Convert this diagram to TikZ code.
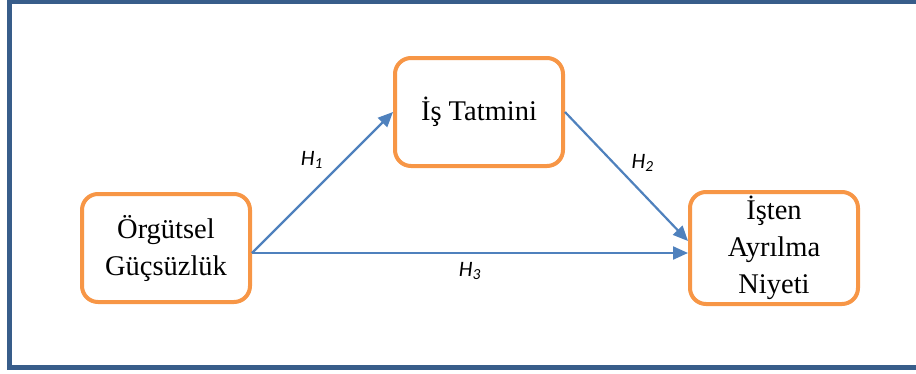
\documentclass[tikz,border=0pt]{standalone}
\usepackage{fontspec}
\setmainfont{Liberation Serif}
\newfontfamily\hypfont{Carlito}
\usetikzlibrary{arrows.meta,positioning}
\definecolor{frameblue}{RGB}{56,93,138}
\definecolor{boxorange}{RGB}{247,150,70}
\definecolor{arrowblue}{RGB}{79,129,189}

\begin{document}
\begin{tikzpicture}[x=1pt, y=-1pt,
        factor/.style={rectangle, draw=boxorange, line width=4pt, rounded corners=16pt, fill=white, minimum width=168pt, minimum height=108pt, align=center, font=\fontsize{28.5}{37}\selectfont},
        link/.style={-{Triangle[length=15pt, width=13pt]}, line width=2.2pt, draw=arrowblue},
        hyp/.style={font=\hypfont\itshape\fontsize{22}{26}\selectfont}
    ]
        \useasboundingbox (0,0) rectangle (916,373);

        % Frame
        \draw[frameblue, line width=5pt] (930,1) -| (9.5,367) -- (930,367);

        % Constructs
        \node[factor] (org) at (166,248) {Örgütsel\\Güçsüzlük};
        \node[factor, above right=24pt and 141pt of org] (tatmin) {İş Tatmini};
        \node[factor, right=436pt of org, minimum height=112pt] (isten) {İşten\\Ayrılma\\Niyeti};

        % Hypotheses
        \draw[link] ([yshift=-5pt]org.east) -- node[hyp, pos=0.55, above left=3pt] {H\textsubscript{1}} (tatmin.west);
        \draw[link] (tatmin.east) -- node[hyp, pos=0.5, above right=1pt] {H\textsubscript{2}} ([yshift=7pt]isten.west);
        \draw[link] ([yshift=-5pt]org.east) -- node[hyp, midway, below=5pt] {H\textsubscript{3}} ([yshift=-5pt]isten.west);
    \end{tikzpicture}
\end{document}
